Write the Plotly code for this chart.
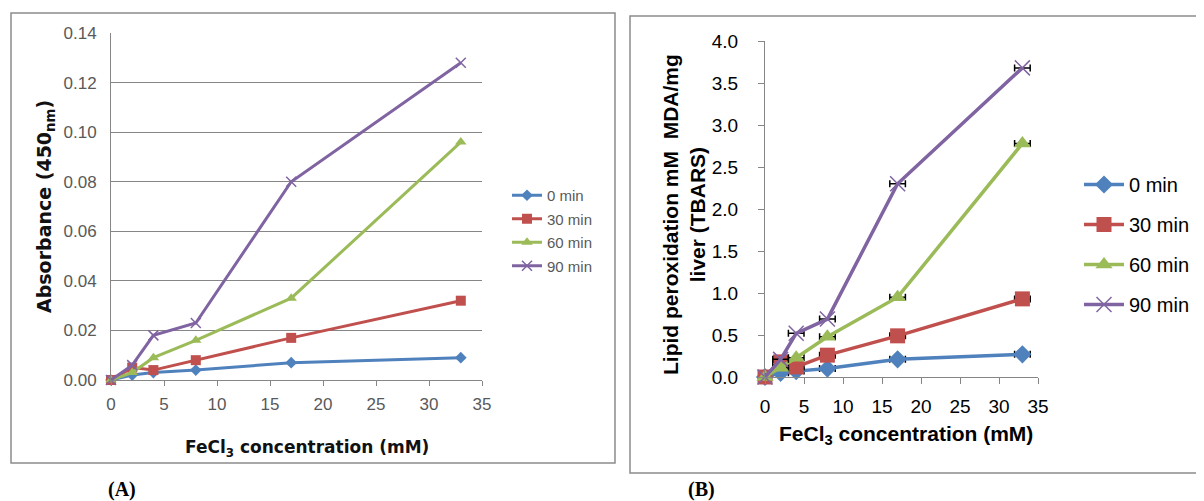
import plotly.graph_objects as go

# The page places the figure 8px in from the top-left corner, so the figure is
# made 8px smaller and all layout positions are given in window pixels.
OFF = 8
W, H = 1204 - OFF, 501 - OFF

# ---------------- data ----------------
conc = [0, 2, 4, 8, 17, 33]
series_names = ["0 min", "30 min", "60 min", "90 min"]

# Panel A: Absorbance (450 nm)
absA_0 = [0.000, 0.002, 0.003, 0.004, 0.007, 0.009]
absA_30 = [0.000, 0.005, 0.004, 0.008, 0.017, 0.032]
absA_60 = [0.000, 0.003, 0.009, 0.016, 0.033, 0.096]
absA_90 = [0.000, 0.006, 0.018, 0.023, 0.080, 0.128]

# Panel B: Lipid peroxidation (TBARS)
tbB_0 = [0.00, 0.05, 0.07, 0.10, 0.21, 0.27]
tbB_30 = [0.00, 0.18, 0.12, 0.26, 0.49, 0.93]
tbB_60 = [0.00, 0.11, 0.23, 0.48, 0.95, 2.78]
tbB_90 = [0.00, 0.21, 0.52, 0.69, 2.30, 3.68]
errB = [0, 1, 1, 1, 1, 1]  # horizontal error (mM)

yA_ticks = [0.00, 0.02, 0.04, 0.06, 0.08, 0.10, 0.12, 0.14]
yB_ticks = [0.0, 0.5, 1.0, 1.5, 2.0, 2.5, 3.0, 3.5, 4.0]
x_ticks = [0, 5, 10, 15, 20, 25, 30, 35]

colors = ["#4F81BD", "#C0504D", "#9BBB59", "#8064A2"]
symbols = ["diamond", "square", "triangle-up", "x-thin"]


def px(x):
    return (x - OFF) / W


def py(y):
    return 1 - (y - OFF) / H


fig = go.Figure()

A_data = [absA_0, absA_30, absA_60, absA_90]
B_data = [tbB_0, tbB_30, tbB_60, tbB_90]
sizesA = [9, 10, 10, 10]
sizesB = [14, 15, 15, 15]

for i, name in enumerate(series_names):
    mk = dict(symbol=symbols[i], size=sizesA[i], color=colors[i])
    if symbols[i] == "x-thin":
        mk["line"] = dict(color=colors[i], width=1.5)
    fig.add_trace(go.Scatter(
        x=conc, y=A_data[i], name=name, mode="lines+markers",
        line=dict(color=colors[i], width=3), marker=mk,
        xaxis="x", yaxis="y", legend="legend", legendgroup="A" + name,
        cliponaxis=False,
    ))

for i, name in enumerate(series_names):
    mk = dict(symbol=symbols[i], size=sizesB[i], color=colors[i])
    if symbols[i] == "x-thin":
        mk["line"] = dict(color=colors[i], width=1.5)
    fig.add_trace(go.Scatter(
        x=conc, y=B_data[i], name=name, mode="lines+markers",
        line=dict(color=colors[i], width=3.5), marker=mk,
        error_x=dict(type="data", array=errB, color="black", thickness=1.5, width=3.5),
        xaxis="x2", yaxis="y2", legend="legend2", legendgroup="B" + name,
        cliponaxis=False,
    ))

gray = "#868686"
fontA = dict(family="Liberation Sans, Arial", size=17, color="#595959")
fontB = dict(family="Liberation Sans, Arial", size=19, color="#000000")

fig.update_layout(
    width=W, height=H,
    margin=dict(l=0, r=0, t=0, b=0, pad=0, autoexpand=False),
    paper_bgcolor="white", plot_bgcolor="white",
    showlegend=True,
    xaxis=dict(
        domain=[px(111), px(482)], range=[0, 35], tickvals=x_ticks,
        showline=True, linecolor=gray, linewidth=1, ticks="outside", ticklen=5,
        tickcolor=gray, showgrid=False, zeroline=False, tickfont=fontA,
        anchor="y", ticklabelstandoff=4, automargin=False,
    ),
    yaxis=dict(
        domain=[py(380), py(33)], range=[0, 0.14], tickvals=yA_ticks,
        tickformat=".2f", showline=True, linecolor=gray, linewidth=1,
        showgrid=True, gridcolor=gray, gridwidth=1, zeroline=False,
        ticks="", tickfont=fontA, anchor="x", ticklabelstandoff=10, automargin=False,
    ),
    xaxis2=dict(
        domain=[px(765), px(1038)], range=[0, 35], tickvals=x_ticks,
        showline=True, linecolor=gray, linewidth=1, ticks="outside", ticklen=6,
        tickcolor=gray, showgrid=False, zeroline=False, tickfont=fontB,
        anchor="y2", ticklabelstandoff=6, automargin=False,
    ),
    yaxis2=dict(
        domain=[py(377), py(41)], range=[0, 4], tickvals=yB_ticks,
        tickformat=".1f", showline=True, linecolor=gray, linewidth=1,
        showgrid=False, zeroline=False, ticks="outside", ticklen=6,
        tickcolor=gray, tickfont=fontB, anchor="x2", ticklabelstandoff=16, automargin=False,
    ),
    legend=dict(
        x=px(507), y=py(179), xanchor="left", yanchor="top",
        font=dict(family="Liberation Sans, Arial", size=15, color="#595959"),
        bgcolor="rgba(0,0,0,0)", tracegroupgap=1, itemwidth=30,
    ),
    legend2=dict(
        x=px(1079), y=py(165), xanchor="left", yanchor="top",
        font=dict(family="Liberation Sans, Arial", size=20, color="#000000"),
        bgcolor="rgba(0,0,0,0)", tracegroupgap=11, itemwidth=40,
    ),
    shapes=[
        dict(type="rect", xref="paper", yref="paper", x0=px(11), x1=px(615),
             y0=py(463), y1=py(13), line=dict(color="#8c8c8c", width=1.5)),
        dict(type="rect", xref="paper", yref="paper", x0=px(630), x1=px(1215),
             y0=py(473), y1=py(16), line=dict(color="#8c8c8c", width=1.5)),
    ],
    annotations=[
        dict(text="<b>Absorbance (450<sub>nm</sub>)</b>", xref="paper", yref="paper",
             x=px(45), y=py(207), xanchor="center", yanchor="middle", textangle=-90,
             showarrow=False, font=dict(family="DejaVu Sans", size=19, color="#111111")),
        dict(text="<b>FeCl<sub>3</sub> concentration (mM)</b>", xref="paper", yref="paper",
             x=px(307), y=py(448), xanchor="center", yanchor="middle",
             showarrow=False, font=dict(family="DejaVu Sans", size=17, color="#111111")),
        dict(text="<b>Lipid peroxidation mM\u00a0 MDA/mg<br>liver (TBARS)</b>", xref="paper", yref="paper",
             x=px(684), y=py(215), xanchor="center", yanchor="middle", textangle=-90,
             showarrow=False, font=dict(family="Liberation Sans, Arial", size=21, color="#000000")),
        dict(text="<b>FeCl<sub>3</sub> concentration (mM)</b>", xref="paper", yref="paper",
             x=px(906), y=py(435), xanchor="center", yanchor="middle",
             showarrow=False, font=dict(family="Liberation Sans, Arial", size=21, color="#000000")),
        dict(text="<b>(A)</b>", xref="paper", yref="paper", x=px(122), y=py(489),
             xanchor="center", yanchor="middle", showarrow=False,
             font=dict(family="Liberation Serif, Times New Roman", size=20, color="#000000")),
        dict(text="<b>(B)</b>", xref="paper", yref="paper", x=px(701), y=py(489),
             xanchor="center", yanchor="middle", showarrow=False,
             font=dict(family="Liberation Serif, Times New Roman", size=20, color="#000000")),
    ],
)

fig.write_html("out.html")
